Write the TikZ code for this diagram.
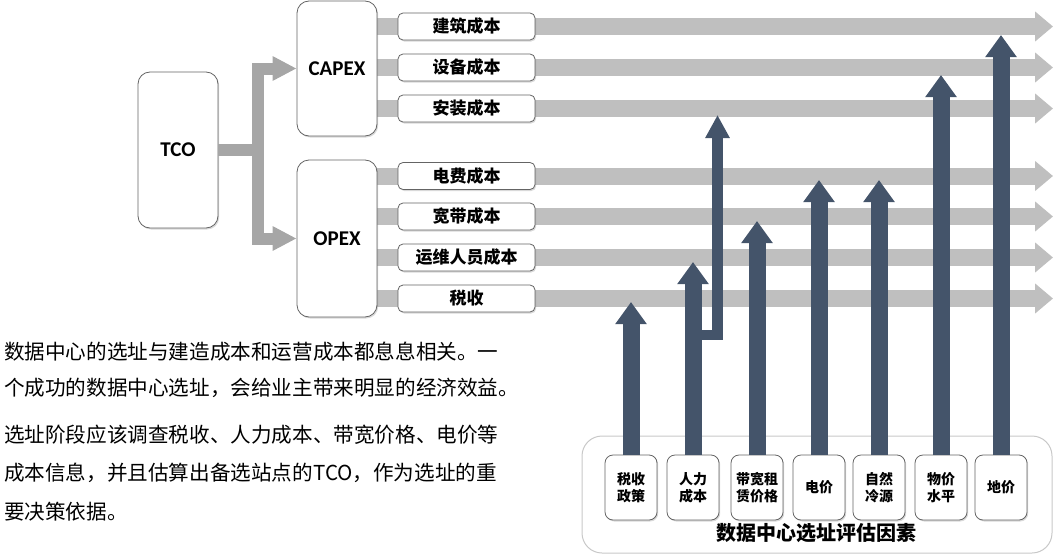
\documentclass[tikz,border=0pt]{standalone}
\usepackage{fontspec}
\setmainfont{Carlito}
\newfontfamily\cjk{Noto Sans CJK SC}
\usetikzlibrary{arrows.meta,shadows,backgrounds}
\definecolor{darkarr}{RGB}{68,84,106}
\definecolor{bargray}{RGB}{191,191,191}
\definecolor{conngray}{RGB}{166,166,166}
\definecolor{boxedge}{RGB}{100,100,100}
\definecolor{frameedge}{RGB}{200,200,200}
\begin{document}
\begin{tikzpicture}[x=1pt,y=-1pt,
  shad/.style={drop shadow={shadow xshift=1.2pt,shadow yshift=-1.5pt,opacity=0.3}},
  bigbox/.style={draw=boxedge, line width=0.8pt, fill=white, rounded corners=12pt, shad,
    inner sep=0pt, minimum width=80pt, font=\bfseries\fontsize{21}{24}\selectfont},
  costbox/.style={draw=boxedge, line width=0.8pt, fill=white, rounded corners=5pt, shad,
    inner sep=0pt, minimum width=137pt, minimum height=27pt,
    font=\cjk\bfseries\fontsize{17}{20}\selectfont},
  factorbox/.style={draw=boxedge, line width=0.8pt, fill=white, rounded corners=8pt, shad,
    inner sep=0pt, minimum width=52pt, minimum height=65pt, align=center,
    font=\cjk\bfseries\fontsize{14}{17}\selectfont},
  frame/.style={draw=frameedge, line width=1pt, rounded corners=20pt, inner sep=0pt,
    minimum width=470pt, minimum height=117pt},
  conn/.style={draw=conngray, line width=12pt, line join=miter},
  connarrow/.style={conn, -{Triangle[length=24pt,width=23pt]}},
  graybar/.style={draw=bargray, line width=17pt},
  grayarrow/.style={graybar, -{Triangle[length=18pt,width=29pt]}},
  darkarrow/.style={draw=darkarr, line width=17pt, -{Triangle[length=22pt,width=30pt]}},
  thinarrow/.style={draw=darkarr, line width=10.5pt, line join=miter, -{Triangle[length=23pt,width=23pt]}},
  para/.style={anchor=west, inner sep=0pt, font=\cjk\fontsize{20.6}{24}\selectfont},
  title/.style={inner sep=0pt, font=\cjk\bfseries\fontsize{20}{24}\selectfont}
]
\useasboundingbox (0,0) rectangle (1054,554);

% left tree
\node[bigbox, minimum height=156pt] (tco) at (178,150) {TCO};
\node[bigbox, minimum height=135pt] (capex) at (337,68.5) {CAPEX};
\node[bigbox, minimum height=157pt] (opex) at (337,238.5) {OPEX};

\node[costbox] (c1) at (466.5,26.5) {建筑成本};
\node[costbox] (c2) at (466.5,67.5) {设备成本};
\node[costbox] (c3) at (466.5,108.5) {安装成本};
\node[costbox] (c4) at (466.5,176) {电费成本};
\node[costbox] (c5) at (466.5,216.5) {宽带成本};
\node[costbox] (c6) at (466.5,257.5) {运维人员成本};
\node[costbox] (c7) at (466.5,298.5) {税收};

\coordinate (j) at (257.5,150);
\draw[conn] (tco.east) -- (j);
\draw[connarrow] (j) |- (capex.west);
\draw[connarrow] (j) |- (opex.west);

\coordinate (rend) at (1053,0);
\begin{scope}[on background layer]
  \foreach \c in {c1,c2,c3} \draw[graybar] (capex.east |- \c.west) -- (\c.west);
  \foreach \c in {c4,c5,c6,c7} \draw[graybar] (opex.east |- \c.west) -- (\c.west);
  \foreach \c in {c1,c2,c3,c4,c5,c6,c7} \draw[grayarrow] (\c.east) -- (\c.east -| rend);
\end{scope}

% factors
\node[frame] (fr) at (817,494.5) {};
\node[factorbox] (s1) at (631,487.5) {税收\\政策};
\node[factorbox] (s2) at (693,487.5) {人力\\成本};
\node[factorbox] (s3) at (757,487.5) {带宽租\\赁价格};
\node[factorbox] (s4) at (819,487.5) {电价};
\node[factorbox] (s5) at (879,487.5) {自然\\冷源};
\node[factorbox] (s6) at (941,487.5) {物价\\水平};
\node[factorbox] (s7) at (1001,487.5) {地价};
\node[title] (tt) at (816,533) {数据中心选址评估因素};

\coordinate (t1) at (0,302);
\coordinate (t2) at (0,262);
\coordinate (t3) at (0,221);
\coordinate (t4) at (0,180);
\coordinate (t5) at (0,180);
\coordinate (t6) at (0,75);
\coordinate (t7) at (0,35);
\foreach \i in {1,...,7} \draw[darkarrow] (s\i.north) -- (s\i.north |- t\i);
\coordinate (bj) at (693,335);
\coordinate (t2b) at (717.5,115);
\draw[thinarrow] (bj) -| (t2b);

% paragraph
\node[para] (p1) at (4,352) {数据中心的选址与建造成本和运营成本都息息相关。一};
\node[para] (p2) at (4,388) {个成功的数据中心选址，会给业主带来明显的经济效益。};
\node[para] (p3) at (4,435) {选址阶段应该调查税收、人力成本、带宽价格、电价等};
\node[para] (p4) at (4,473) {成本信息，并且估算出备选站点的TCO，作为选址的重};
\node[para] (p5) at (4,512) {要决策依据。};
\end{tikzpicture}
\end{document}
